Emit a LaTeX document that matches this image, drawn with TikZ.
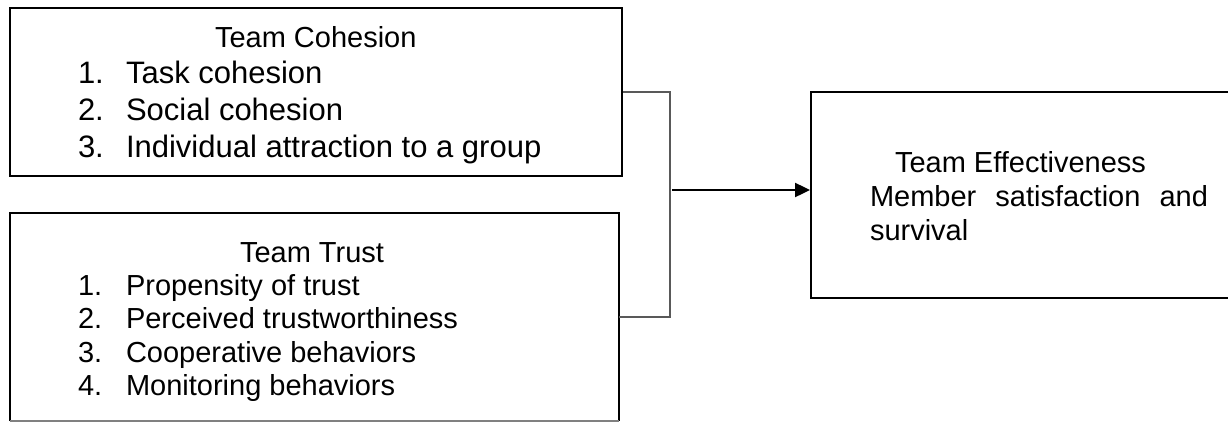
\documentclass[tikz,border=0pt]{standalone}
\usepackage{fontspec}
\setmainfont{Liberation Sans}
\usetikzlibrary{arrows.meta}
\begin{document}
\begin{tikzpicture}[x=1pt,y=-1pt,
  boxst/.style={draw=black,line width=2pt,inner sep=0pt},
  conn/.style={draw=black!65,line width=1.5pt},
  arr/.style={draw=black,line width=2.4pt,-{Triangle[length=15pt,width=14pt]}},
  txt/.style={anchor=base west,inner sep=0pt,outer sep=0pt},
  big/.style={font=\fontsize{31}{37}\selectfont},
  mid/.style={font=\fontsize{29}{34}\selectfont}]
\useasboundingbox[fill=white] (0,0) rectangle (1228,423);
% boxes
\node[boxst,minimum width=612pt,minimum height=168pt] (coh) at (316,92) {};
\node[inner sep=0pt,minimum width=609pt,minimum height=208pt] (trust) at (314.5,317) {};
\draw[line width=2pt] (trust.south west) -- (trust.north west) -- (trust.north east) -- (trust.south east);
\draw[black!50,line width=1.5pt] (trust.south west) -- (trust.south east);
\node[boxst,minimum width=429pt,minimum height=206pt] (eff) at (1025.5,195) {};
% texts: cohesion
\node[txt,mid] (cohT) at (215,47) {Team Cohesion};
\node[txt,big] (c1n) at (78,83) {1.};
\node[txt,big] (c1) at (126,83) {Task cohesion};
\node[txt,big] (c2n) at (78,120) {2.};
\node[txt,big] (c2) at (126,120) {Social cohesion};
\node[txt,big] (c3n) at (78,157) {3.};
\node[txt,big] (c3) at (126,157) {Individual attraction to a group};
% texts: trust
\node[txt,mid] (trT) at (240,262) {Team Trust};
\node[txt,mid] (t1n) at (78,295) {1.};
\node[txt,mid] (t1) at (126,295) {Propensity of trust};
\node[txt,mid] (t2n) at (78,328) {2.};
\node[txt,mid] (t2) at (126,328) {Perceived trustworthiness};
\node[txt,mid] (t3n) at (78,362) {3.};
\node[txt,mid] (t3) at (126,362) {Cooperative behaviors};
\node[txt,mid] (t4n) at (78,395) {4.};
\node[txt,mid] (t4) at (126,395) {Monitoring behaviors};
% texts: effectiveness
\node[txt,mid] (eT) at (895,172) {Team Effectiveness};
\node[txt,mid] (e1) at (870,206) {\hbox to 338pt{Member\hfill satisfaction\hfill and}};
\node[txt,mid] (e2) at (870,240) {survival};
% connectors
\draw[conn] (coh.east) -- (670,92) |- (trust.east);
\coordinate (j) at (672,190);
\draw[arr] (j) -- (eff.west |- j);
\end{tikzpicture}
\end{document}
